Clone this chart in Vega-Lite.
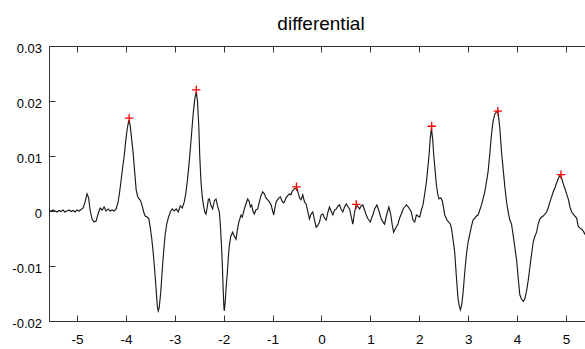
{
  "$schema": "https://vega.github.io/schema/vega-lite/v6.json",
  "width": 536,
  "height": 275,
  "autosize": {"type": "none"},
  "padding": {"left": 49, "top": 46, "right": 0, "bottom": 28},
  "background": "white",
  "config": {"view": {"stroke": null}},
  "title": {"text": "differential", "font": "Liberation Sans", "fontSize": 19, "fontWeight": "normal", "color": "#000", "anchor": "middle", "dx": 4, "dy": 24, "baseline": "alphabetic", "offset": 17},
  "datasets": {
    "curve": [
      {"x": -5.615, "y": 0}, {"x": -5.574, "y": 0.00018}, {"x": -5.533, "y": -0.00009}, {"x": -5.492, "y": 0.00018}, {"x": -5.451, "y": 0}, {"x": -5.41, "y": -0.00018}, {"x": -5.369, "y": 0.00009}, {"x": -5.328, "y": -0.00009}, {"x": -5.287, "y": 0.00018}, {"x": -5.246, "y": -0.00018}, {"x": -5.205, "y": 0}, {"x": -5.164, "y": 0.00018}, {"x": -5.123, "y": -0.00009}, {"x": -5.082, "y": 0.00009}, {"x": -5.041, "y": -0.00018}, {"x": -5.0, "y": 0.00018}, {"x": -4.959, "y": 0}, {"x": -4.918, "y": 0.00028}, {"x": -4.877, "y": 0.00055}, {"x": -4.836, "y": 0.00165}, {"x": -4.795, "y": 0.00312}, {"x": -4.764, "y": 0.00239}, {"x": -4.734, "y": 0.00018}, {"x": -4.693, "y": -0.00147}, {"x": -4.652, "y": -0.00202}, {"x": -4.611, "y": -0.00183}, {"x": -4.57, "y": -0.00055}, {"x": -4.529, "y": 0.00055}, {"x": -4.488, "y": 0.00018}, {"x": -4.447, "y": 0.00073}, {"x": -4.406, "y": 0}, {"x": -4.365, "y": 0.00037}, {"x": -4.324, "y": 0}, {"x": -4.283, "y": 0.00018}, {"x": -4.242, "y": 0}, {"x": -4.201, "y": 0.00037},
      {"x": -4.16, "y": 0.00165}, {"x": -4.129, "y": 0.00349}, {"x": -4.098, "y": 0.00569}, {"x": -4.068, "y": 0.00789}, {"x": -4.037, "y": 0.00991}, {"x": -4.006, "y": 0.01266}, {"x": -3.975, "y": 0.01486}, {"x": -3.941, "y": 0.01651}, {"x": -3.914, "y": 0.0156}, {"x": -3.883, "y": 0.01303}, {"x": -3.852, "y": 0.01046}, {"x": -3.822, "y": 0.00716}, {"x": -3.791, "y": 0.00385}, {"x": -3.76, "y": 0.00257}, {"x": -3.73, "y": 0.0022}, {"x": -3.699, "y": 0.00183}, {"x": -3.668, "y": 0.00092}, {"x": -3.637, "y": -0.00018}, {"x": -3.607, "y": -0.00092}, {"x": -3.566, "y": -0.0011}, {"x": -3.531, "y": -0.00147}, {"x": -3.504, "y": -0.00294}, {"x": -3.473, "y": -0.00495}, {"x": -3.443, "y": -0.00752}, {"x": -3.412, "y": -0.01083}, {"x": -3.381, "y": -0.0145}, {"x": -3.357, "y": -0.01743}, {"x": -3.34, "y": -0.01817}, {"x": -3.32, "y": -0.01761}, {"x": -3.289, "y": -0.01486}, {"x": -3.258, "y": -0.01083}, {"x": -3.227, "y": -0.00716}, {"x": -3.197, "y": -0.00422}, {"x": -3.166, "y": -0.00239}, {"x": -3.135, "y": -0.00128}, {"x": -3.094, "y": -0.00018}, {"x": -3.053, "y": 0.00037}, {"x": -3.012, "y": 0}, {"x": -2.971, "y": 0.00037}, {"x": -2.93, "y": -0.00018}, {"x": -2.889, "y": 0.00092}, {"x": -2.848, "y": 0.00055}, {"x": -2.807, "y": 0.00165}, {"x": -2.777, "y": 0.00312}, {"x": -2.746, "y": 0.00532}, {"x": -2.715, "y": 0.00807}, {"x": -2.684, "y": 0.01119}, {"x": -2.654, "y": 0.0145}, {"x": -2.623, "y": 0.0178}, {"x": -2.592, "y": 0.02037}, {"x": -2.561, "y": 0.02165}, {"x": -2.537, "y": 0.02}, {"x": -2.51, "y": 0.01541}, {"x": -2.49, "y": 0.00991}, {"x": -2.465, "y": 0.00532}, {"x": -2.439, "y": 0.00257}, {"x": -2.412, "y": 0.00092}, {"x": -2.387, "y": -0.00018}, {"x": -2.363, "y": -0.00055}, {"x": -2.336, "y": 0.00073}, {"x": -2.316, "y": 0.00202}, {"x": -2.295, "y": 0.0022}, {"x": -2.264, "y": 0.0011}, {"x": -2.227, "y": 0.00037}, {"x": -2.193, "y": 0.00183}, {"x": -2.158, "y": 0.0022}, {"x": -2.127, "y": 0.00092}, {"x": -2.09, "y": -0.00018}, {"x": -2.07, "y": -0.00239}, {"x": -2.049, "y": -0.00569}, {"x": -2.029, "y": -0.00972}, {"x": -2.012, "y": -0.01395}, {"x": -1.998, "y": -0.01725}, {"x": -1.988, "y": -0.01817}, {"x": -1.971, "y": -0.0167}, {"x": -1.951, "y": -0.01395}, {"x": -1.926, "y": -0.01119}, {"x": -1.906, "y": -0.00844}, {"x": -1.885, "y": -0.00624}, {"x": -1.855, "y": -0.00459}, {"x": -1.818, "y": -0.00385}, {"x": -1.783, "y": -0.00459}, {"x": -1.748, "y": -0.00514}, {"x": -1.721, "y": -0.00349}, {"x": -1.691, "y": -0.00202}, {"x": -1.646, "y": -0.00073}, {"x": -1.619, "y": -0.0011}, {"x": -1.578, "y": 0.00037}, {"x": -1.547, "y": 0.00128}, {"x": -1.51, "y": 0.0022}, {"x": -1.475, "y": 0.00165}, {"x": -1.455, "y": 0.00073}, {"x": -1.428, "y": 0.0011}, {"x": -1.404, "y": 0}, {"x": -1.373, "y": -0.00055}, {"x": -1.342, "y": 0.00018}, {"x": -1.305, "y": 0.00037}, {"x": -1.271, "y": 0.00165}, {"x": -1.24, "y": 0.00275}, {"x": -1.203, "y": 0.00349}, {"x": -1.168, "y": 0.00312}, {"x": -1.137, "y": 0.00239}, {"x": -1.1, "y": 0.00202}, {"x": -1.066, "y": 0.00165}, {"x": -1.031, "y": 0.0011}, {"x": -1.004, "y": 0.00018}, {"x": -0.977, "y": -0.00073}, {"x": -0.953, "y": 0.00055}, {"x": -0.928, "y": 0.00165}, {"x": -0.902, "y": 0.00202}, {"x": -0.871, "y": 0.00239}, {"x": -0.84, "y": 0.00257}, {"x": -0.809, "y": 0.00183}, {"x": -0.779, "y": 0.00147}, {"x": -0.758, "y": 0.00165}, {"x": -0.727, "y": 0.00239}, {"x": -0.697, "y": 0.00275}, {"x": -0.656, "y": 0.00312}, {"x": -0.625, "y": 0.00294}, {"x": -0.594, "y": 0.00367}, {"x": -0.553, "y": 0.00404}, {"x": -0.506, "y": 0.00422}, {"x": -0.482, "y": 0.00349}, {"x": -0.451, "y": 0.00239}, {"x": -0.42, "y": 0.00202}, {"x": -0.383, "y": 0.00294}, {"x": -0.348, "y": 0.00165}, {"x": -0.314, "y": 0.00128}, {"x": -0.287, "y": 0.00018}, {"x": -0.246, "y": -0.00147}, {"x": -0.215, "y": -0.00055}, {"x": -0.178, "y": -0.00018}, {"x": -0.143, "y": -0.00165}, {"x": -0.109, "y": -0.00294}, {"x": -0.072, "y": -0.00257}, {"x": -0.041, "y": -0.00202}, {"x": -0.01, "y": -0.00073}, {"x": 0.027, "y": -0.00055}, {"x": 0.061, "y": -0.00128}, {"x": 0.096, "y": -0.00165}, {"x": 0.133, "y": -0.00018}, {"x": 0.164, "y": 0.00073}, {"x": 0.195, "y": 0}, {"x": 0.232, "y": -0.00073}, {"x": 0.266, "y": 0.00018}, {"x": 0.301, "y": 0.00037}, {"x": 0.338, "y": 0.00092}, {"x": 0.369, "y": 0.0011}, {"x": 0.4, "y": 0.00037}, {"x": 0.436, "y": -0.00018}, {"x": 0.471, "y": 0.00073}, {"x": 0.506, "y": 0.00128}, {"x": 0.543, "y": 0.00073}, {"x": 0.574, "y": 0.00037}, {"x": 0.605, "y": -0.00092}, {"x": 0.641, "y": -0.00239}, {"x": 0.676, "y": -0.00018}, {"x": 0.711, "y": 0.0011}, {"x": 0.748, "y": 0.00073}, {"x": 0.779, "y": 0.00037}, {"x": 0.809, "y": 0.00092}, {"x": 0.846, "y": 0.0011}, {"x": 0.881, "y": 0.00018}, {"x": 0.916, "y": -0.00073}, {"x": 0.953, "y": -0.00147}, {"x": 0.998, "y": -0.00202}, {"x": 1.025, "y": -0.00128}, {"x": 1.051, "y": -0.00073}, {"x": 1.086, "y": 0.00037}, {"x": 1.133, "y": 0.0011}, {"x": 1.168, "y": 0.00018}, {"x": 1.199, "y": -0.00073}, {"x": 1.223, "y": -0.00147}, {"x": 1.26, "y": -0.00202}, {"x": 1.291, "y": -0.00239}, {"x": 1.332, "y": -0.00073}, {"x": 1.379, "y": 0.00073}, {"x": 1.414, "y": -0.00055}, {"x": 1.445, "y": -0.00239}, {"x": 1.475, "y": -0.00385}, {"x": 1.516, "y": -0.00312}, {"x": 1.564, "y": -0.00239}, {"x": 1.598, "y": -0.00128}, {"x": 1.633, "y": -0.00055}, {"x": 1.67, "y": 0.00037}, {"x": 1.701, "y": 0.00073}, {"x": 1.736, "y": 0.0011}, {"x": 1.773, "y": 0.00073}, {"x": 1.803, "y": 0.00037}, {"x": 1.838, "y": -0.00018}, {"x": 1.871, "y": -0.00165}, {"x": 1.906, "y": -0.00202}, {"x": 1.941, "y": -0.00073}, {"x": 1.973, "y": -0.00092}, {"x": 2.008, "y": -0.0011}, {"x": 2.043, "y": 0.00018}, {"x": 2.076, "y": 0.0011}, {"x": 2.111, "y": 0.00312}, {"x": 2.146, "y": 0.00532}, {"x": 2.178, "y": 0.00807}, {"x": 2.203, "y": 0.01046}, {"x": 2.223, "y": 0.01303}, {"x": 2.248, "y": 0.01505}, {"x": 2.275, "y": 0.01303}, {"x": 2.295, "y": 0.01028}, {"x": 2.326, "y": 0.00716}, {"x": 2.35, "y": 0.00477}, {"x": 2.377, "y": 0.00312}, {"x": 2.404, "y": 0.0022}, {"x": 2.439, "y": 0.00239}, {"x": 2.473, "y": 0.00183}, {"x": 2.5, "y": 0.00037}, {"x": 2.521, "y": -0.00073}, {"x": 2.568, "y": -0.00165}, {"x": 2.602, "y": -0.00202}, {"x": 2.637, "y": -0.00239}, {"x": 2.664, "y": -0.00349}, {"x": 2.691, "y": -0.00514}, {"x": 2.725, "y": -0.00752}, {"x": 2.746, "y": -0.01028}, {"x": 2.771, "y": -0.0134}, {"x": 2.793, "y": -0.01596}, {"x": 2.818, "y": -0.01725}, {"x": 2.842, "y": -0.01798}, {"x": 2.869, "y": -0.01706}, {"x": 2.896, "y": -0.01486}, {"x": 2.93, "y": -0.01119}, {"x": 2.965, "y": -0.00789}, {"x": 2.998, "y": -0.00569}, {"x": 3.033, "y": -0.00422}, {"x": 3.068, "y": -0.00275}, {"x": 3.1, "y": -0.00165}, {"x": 3.135, "y": -0.00128}, {"x": 3.17, "y": -0.00092}, {"x": 3.203, "y": -0.00073}, {"x": 3.238, "y": 0.00018}, {"x": 3.273, "y": 0.0011}, {"x": 3.305, "y": 0.0022}, {"x": 3.34, "y": 0.00349}, {"x": 3.375, "y": 0.00532}, {"x": 3.408, "y": 0.00716}, {"x": 3.443, "y": 0.01046}, {"x": 3.478, "y": 0.01395}, {"x": 3.51, "y": 0.01633}, {"x": 3.545, "y": 0.01761}, {"x": 3.576, "y": 0.01798}, {"x": 3.607, "y": 0.01817}, {"x": 3.627, "y": 0.0167}, {"x": 3.648, "y": 0.01505}, {"x": 3.682, "y": 0.01083}, {"x": 3.715, "y": 0.00771}, {"x": 3.75, "y": 0.0044}, {"x": 3.785, "y": 0.00165}, {"x": 3.818, "y": -0.00018}, {"x": 3.853, "y": -0.00165}, {"x": 3.887, "y": -0.00239}, {"x": 3.92, "y": -0.0044}, {"x": 3.955, "y": -0.00661}, {"x": 3.99, "y": -0.00881}, {"x": 4.023, "y": -0.01211}, {"x": 4.057, "y": -0.01523}, {"x": 4.088, "y": -0.01596}, {"x": 4.129, "y": -0.01642}, {"x": 4.16, "y": -0.01596}, {"x": 4.195, "y": -0.0145}, {"x": 4.228, "y": -0.01266}, {"x": 4.262, "y": -0.01028}, {"x": 4.297, "y": -0.00789}, {"x": 4.33, "y": -0.00569}, {"x": 4.365, "y": -0.00459}, {"x": 4.4, "y": -0.00385}, {"x": 4.432, "y": -0.00239}, {"x": 4.467, "y": -0.00147}, {"x": 4.502, "y": -0.0011}, {"x": 4.535, "y": -0.00092}, {"x": 4.57, "y": -0.00055}, {"x": 4.604, "y": -0.00018}, {"x": 4.637, "y": 0.00055}, {"x": 4.672, "y": 0.00165}, {"x": 4.707, "y": 0.00257}, {"x": 4.74, "y": 0.00349}, {"x": 4.775, "y": 0.00422}, {"x": 4.81, "y": 0.00514}, {"x": 4.842, "y": 0.00587}, {"x": 4.877, "y": 0.00651}, {"x": 4.908, "y": 0.00606}, {"x": 4.945, "y": 0.00495}, {"x": 4.98, "y": 0.00404}, {"x": 5.014, "y": 0.00312}, {"x": 5.047, "y": 0.0022}, {"x": 5.082, "y": 0.00073}, {"x": 5.117, "y": -0.00018}, {"x": 5.15, "y": -0.00055}, {"x": 5.184, "y": -0.00092}, {"x": 5.219, "y": -0.00128}, {"x": 5.252, "y": -0.00275}, {"x": 5.287, "y": -0.00312}, {"x": 5.322, "y": -0.0033}, {"x": 5.355, "y": -0.00367}, {"x": 5.389, "y": -0.00422}, {"x": 5.43, "y": -0.0044}
    ],
    "peaks": [
      {"x": -3.934, "y": 0.01688},
      {"x": -2.561, "y": 0.02202},
      {"x": -0.512, "y": 0.0044},
      {"x": 0.711, "y": 0.00119},
      {"x": 2.254, "y": 0.01541},
      {"x": 3.607, "y": 0.01817},
      {"x": 4.898, "y": 0.00661}
    ]
  },
  "layer": [
    {
      "data": {"name": "curve"},
      "mark": {"type": "line", "color": "#1a1a1a", "strokeWidth": 1.15, "clip": true},
      "encoding": {
        "x": {"field": "x", "type": "quantitative", "scale": {"domain": [-5.574, 5.39], "nice": false, "zero": false},
          "axis": {"orient": "bottom", "values": [-5, -4, -3, -2, -1, 0, 1, 2, 3, 4, 5], "labelExpr": "'' + datum.value", "title": null, "grid": false, "tickSize": -6, "labelPadding": 17, "domainColor": "#333", "tickColor": "#333", "labelColor": "#000", "labelFont": "Liberation Sans", "labelFontSize": 13.5}},
        "y": {"field": "y", "type": "quantitative", "scale": {"domain": [-0.02, 0.03], "nice": false, "zero": false},
          "axis": {"orient": "left", "values": [-0.02, -0.01, 0, 0.01, 0.02, 0.03], "labelExpr": "'' + datum.value", "title": null, "grid": false, "tickSize": -6, "labelPadding": 13.5, "labelOffset": 2, "domainColor": "#333", "tickColor": "#333", "labelColor": "#000", "labelFont": "Liberation Sans", "labelFontSize": 13}}
      }
    },
    {
      "data": {"name": "peaks"},
      "mark": {"type": "point", "shape": "M-1,0L1,0M0,-1L0,1", "size": 70, "filled": false, "color": "#ff0000", "strokeWidth": 1.3, "opacity": 1, "clip": true},
      "encoding": {
        "x": {"field": "x", "type": "quantitative",
          "axis": {"orient": "top", "values": [-5, -4, -3, -2, -1, 0, 1, 2, 3, 4, 5], "labels": false, "title": null, "grid": false, "tickSize": -6, "domainColor": "#333", "tickColor": "#333"}},
        "y": {"field": "y", "type": "quantitative"}
      }
    }
  ],
  "resolve": {"axis": {"x": "independent"}}
}
